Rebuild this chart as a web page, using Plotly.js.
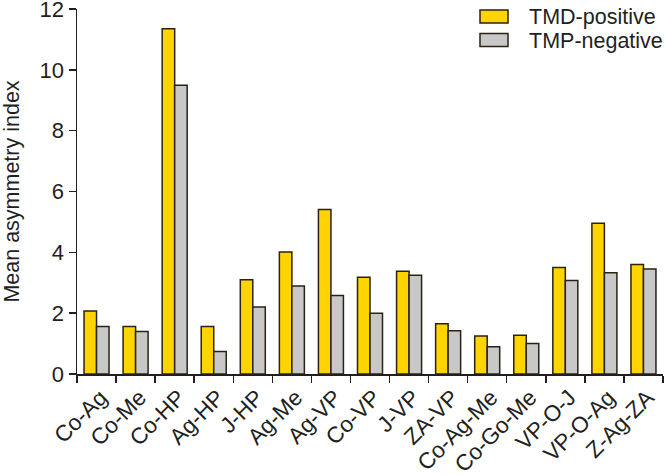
<!DOCTYPE html>
<html>
<head>
<meta charset="utf-8">
<script src="https://cdn.plot.ly/plotly-3.0.1.min.js"></script>
<style>html,body{margin:0;padding:0;background:#fff;}#chart{width:666px;height:475px;}</style>
</head>
<body>
<div id="chart"></div>
<script>
const categories = ["Co-Ag","Co-Me","Co-HP","Ag-HP","J-HP","Ag-Me","Ag-VP","Co-VP","J-VP","ZA-VP","Co-Ag-Me","Co-Go-Me","VP-O-J","VP-O-Ag","Z-Ag-ZA"];
const tmdPositive = [2.07,1.56,11.35,1.56,3.10,4.01,5.41,3.18,3.38,1.65,1.25,1.27,3.50,4.96,3.60];
const tmpNegative = [1.56,1.40,9.49,0.74,2.20,2.89,2.58,2.00,3.25,1.42,0.90,1.00,3.07,3.33,3.45];
const seriesNames = ["TMD-positive","TMP-negative"];
const yTicks = [0,2,4,6,8,10,12];

const W = 666, H = 475;
const M = {l:77, r:3, t:9, b:101};
const FONT = "Arial, 'Liberation Sans', Helvetica, sans-serif";
const edge = "#2a2213";
const colors = ["#FFD400","#C8C8C8"];

const px2x = p => (p - M.l) / (W - M.l - M.r);
const px2y = p => (H - M.b - p) / (H - M.t - M.b);

const traces = [tmdPositive, tmpNegative].map((vals, i) => ({
  type: "bar", x: categories, y: vals, name: seriesNames[i],
  marker: {color: colors[i], line: {color: edge, width: 1.5}},
  showlegend: false, hoverinfo: "x+y"
}));

const shapes = [], annotations = [];
seriesNames.forEach((n, i) => {
  const top = 10 + i * 23.5;
  shapes.push({type:"rect", xref:"paper", yref:"paper",
    x0: px2x(480), x1: px2x(508), y0: px2y(top + 13), y1: px2y(top),
    fillcolor: colors[i], line:{color: edge, width:1.5}});
  annotations.push({xref:"paper", yref:"paper", x: px2x(527), y: px2y(top + 7),
    xanchor:"left", yanchor:"middle", text: n, showarrow:false,
    font:{family:FONT, size:21.5, color:"#231f20"}});
});

const layout = {
  width: W, height: H,
  margin: {l:M.l, r:M.r, t:M.t, b:M.b, pad:0},
  paper_bgcolor: "#fff", plot_bgcolor: "#fff",
  font: {family: FONT, color: "#231f20", size: 20},
  bargap: 0.36, bargroupgap: 0, barmode: "group",
  xaxis: {
    type: "category", showline: true, linecolor: "#231f20", linewidth: 1.5,
    ticks: "outside", tickson: "boundaries", ticklen: 7, tickwidth: 1.5, tickcolor: "#231f20",
    tickangle: -45, tickfont: {family: FONT, size: 22.5}, showgrid: false, zeroline: false,
    ticklabelstandoff: 0, ticklabelshift: 4, ticklabeloverflow: "allow", fixedrange: true
  },
  yaxis: {
    range: [0, 12], tickvals: yTicks, ticktext: yTicks.map(String),
    showline: true, linecolor: "#231f20", linewidth: 1.5,
    ticks: "outside", ticklen: 7, tickwidth: 1.5, tickcolor: "#231f20",
    tickfont: {family: FONT, size: 22}, showgrid: false, zeroline: false,
    ticklabelstandoff: 0, ticklabeloverflow: "allow",
    title: {text: "Mean asymmetry index", font: {family: FONT, size: 21.5}, standoff: 18},
    fixedrange: true
  },
  shapes: shapes, annotations: annotations, showlegend: false
};

Plotly.newPlot("chart", traces, layout, {displayModeBar: false, staticPlot: true});
</script>
</body>
</html>
